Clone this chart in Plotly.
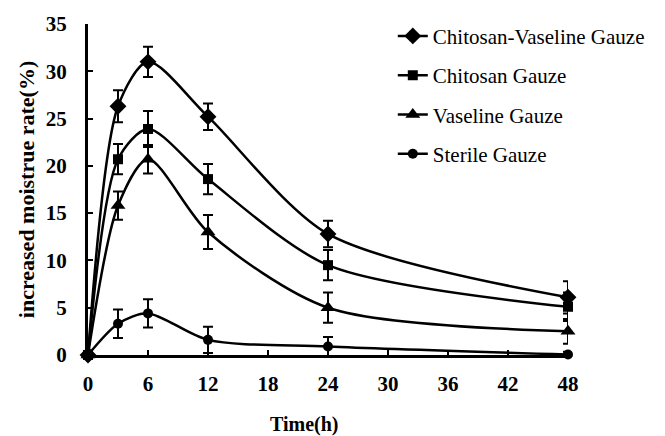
import plotly.graph_objects as go

time_h = [0, 3, 6, 12, 24, 48]
series_names = ["Chitosan-Vaseline Gauze", "Chitosan Gauze", "Vaseline Gauze", "Sterile Gauze"]
cv_vals = [0, 26.3, 31.0, 25.2, 12.8, 6.1]
cv_err = [0, 1.7, 1.6, 1.4, 1.4, 1.7]
ch_vals = [0, 20.7, 23.9, 18.6, 9.5, 5.1]
ch_err = [0, 1.6, 1.9, 1.6, 1.6, 1.5]
va_vals = [0, 15.8, 20.7, 13.0, 5.0, 2.5]
va_err = [0, 1.5, 1.5, 1.8, 1.6, 1.3]
st_vals = [0, 3.3, 4.4, 1.6, 0.9, 0.05]
st_err = [0, 1.5, 1.5, 1.4, 1.0, 0.3]
tick_vals_x = [0, 6, 12, 18, 24, 30, 36, 42, 48]
tick_vals_y = [0, 5, 10, 15, 20, 25, 30, 35]
symbols = ["diamond", "square", "triangle-up", "circle"]
sizes = [13, 10, 13, 10]

fig = go.Figure()
for name, vals, err, sym, sz in zip(series_names, [cv_vals, ch_vals, va_vals, st_vals],
                                    [cv_err, ch_err, va_err, st_err], symbols, sizes):
    fig.add_trace(go.Scatter(
        x=time_h, y=vals, name=name, mode="lines+markers",
        line=dict(color="black", width=2.5, shape="spline", smoothing=0.8),
        marker=dict(symbol=sym, size=sz, color="black"),
        error_y=dict(type="data", array=err, color="black", thickness=2, width=5),
        legendgroup=name, cliponaxis=False,
    ))

font_serif = "Liberation Serif, Times New Roman, serif"
fig.update_layout(
    width=665, height=436,
    margin=dict(l=88, r=97, t=21, b=81),
    paper_bgcolor="white", plot_bgcolor="white",
    font=dict(family=font_serif, color="black", size=16),
    showlegend=True,
    legend=dict(x=0.635, y=1.025, xanchor="left", yanchor="top",
                font=dict(family=font_serif, size=21, color="black"),
                bgcolor="rgba(0,0,0,0)", tracegroupgap=9),
    xaxis=dict(range=[0, 48], tickvals=tick_vals_x,
               showline=True, linecolor="black", linewidth=3,
               ticks="inside", ticklen=5, tickwidth=2, tickcolor="black",
               showgrid=False, zeroline=False, ticklabelstandoff=8,
               tickfont=dict(family=font_serif, size=21, color="black", weight="bold")),
    yaxis=dict(range=[0, 35], tickvals=tick_vals_y,
               showline=True, linecolor="black", linewidth=3,
               ticks="inside", ticklen=5, tickwidth=2, tickcolor="black",
               showgrid=False, zeroline=False, ticklabelstandoff=14,
               tickfont=dict(family=font_serif, size=21, color="black", weight="bold"),
               title=dict(text="<b>increased moistrue rate(%)</b>",
                          font=dict(family=font_serif, size=22), standoff=6)),
    annotations=[dict(text="<b>Time(h)</b>", xref="paper", yref="paper",
                      x=0.452, y=-0.21, xanchor="center", yanchor="middle",
                      showarrow=False, font=dict(family=font_serif, size=20, color="black"))],
)
fig.write_html("out.html", post_script="document.body.style.margin='0';",
               config={"displayModeBar": False})
